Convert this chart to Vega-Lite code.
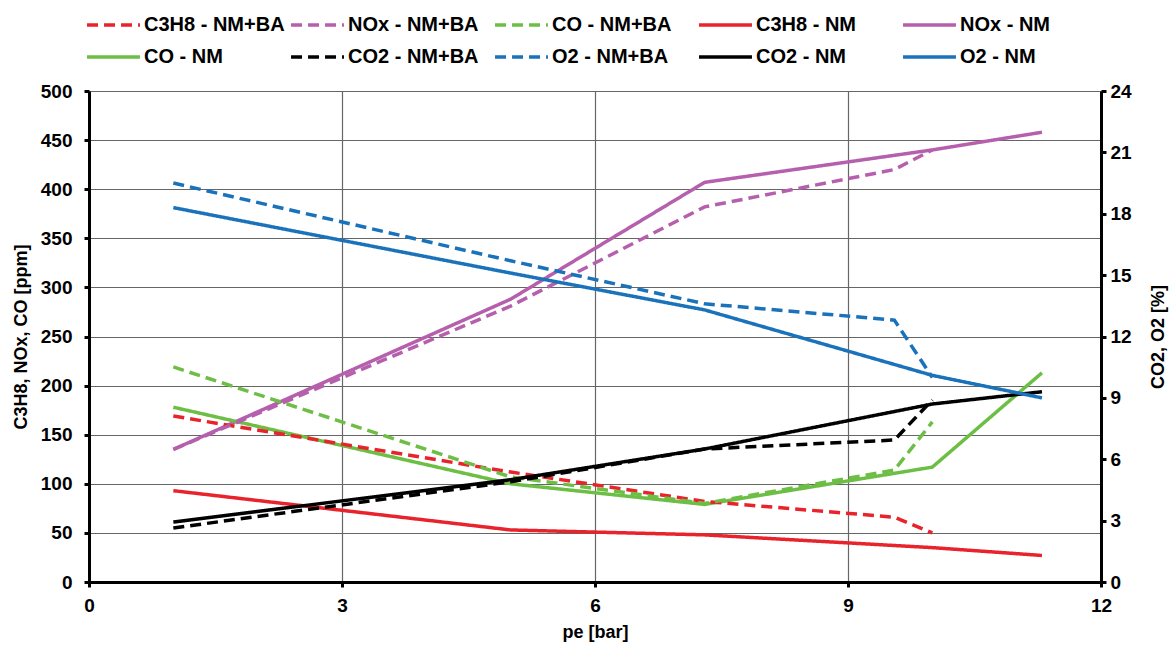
{
  "$schema": "https://vega.github.io/schema/vega-lite/v6.json",
  "width": 1012,
  "height": 491,
  "autosize": "none",
  "padding": {"left": 89, "top": 91, "right": 73, "bottom": 66},
  "background": "white",
  "data": {
    "values": [
      {"pe": 1, "value": 93, "series": "C3H8 - NM", "unit": "ppm"},
      {"pe": 5, "value": 53, "series": "C3H8 - NM", "unit": "ppm"},
      {"pe": 7.3, "value": 48, "series": "C3H8 - NM", "unit": "ppm"},
      {"pe": 10, "value": 35, "series": "C3H8 - NM", "unit": "ppm"},
      {"pe": 11.3, "value": 27, "series": "C3H8 - NM", "unit": "ppm"},

      {"pe": 1, "value": 135, "series": "NOx - NM", "unit": "ppm"},
      {"pe": 5, "value": 288, "series": "NOx - NM", "unit": "ppm"},
      {"pe": 7.3, "value": 407, "series": "NOx - NM", "unit": "ppm"},
      {"pe": 10, "value": 440, "series": "NOx - NM", "unit": "ppm"},
      {"pe": 11.3, "value": 458, "series": "NOx - NM", "unit": "ppm"},

      {"pe": 1, "value": 178, "series": "CO - NM", "unit": "ppm"},
      {"pe": 5, "value": 100, "series": "CO - NM", "unit": "ppm"},
      {"pe": 7.3, "value": 79, "series": "CO - NM", "unit": "ppm"},
      {"pe": 10, "value": 117, "series": "CO - NM", "unit": "ppm"},
      {"pe": 11.3, "value": 213, "series": "CO - NM", "unit": "ppm"},

      {"pe": 1, "value": 169, "series": "C3H8 - NM+BA", "unit": "ppm"},
      {"pe": 5, "value": 112, "series": "C3H8 - NM+BA", "unit": "ppm"},
      {"pe": 7.3, "value": 82, "series": "C3H8 - NM+BA", "unit": "ppm"},
      {"pe": 9.55, "value": 66, "series": "C3H8 - NM+BA", "unit": "ppm"},
      {"pe": 10, "value": 50, "series": "C3H8 - NM+BA", "unit": "ppm"},

      {"pe": 1, "value": 135, "series": "NOx - NM+BA", "unit": "ppm"},
      {"pe": 5, "value": 281, "series": "NOx - NM+BA", "unit": "ppm"},
      {"pe": 7.3, "value": 382, "series": "NOx - NM+BA", "unit": "ppm"},
      {"pe": 9.55, "value": 420, "series": "NOx - NM+BA", "unit": "ppm"},
      {"pe": 10, "value": 440, "series": "NOx - NM+BA", "unit": "ppm"},

      {"pe": 1, "value": 219, "series": "CO - NM+BA", "unit": "ppm"},
      {"pe": 5, "value": 107, "series": "CO - NM+BA", "unit": "ppm"},
      {"pe": 7.3, "value": 80, "series": "CO - NM+BA", "unit": "ppm"},
      {"pe": 9.55, "value": 114, "series": "CO - NM+BA", "unit": "ppm"},
      {"pe": 10, "value": 163, "series": "CO - NM+BA", "unit": "ppm"},

      {"pe": 1, "value": 2.93, "series": "CO2 - NM", "unit": "%"},
      {"pe": 5, "value": 5.0, "series": "CO2 - NM", "unit": "%"},
      {"pe": 7.3, "value": 6.5, "series": "CO2 - NM", "unit": "%"},
      {"pe": 10, "value": 8.7, "series": "CO2 - NM", "unit": "%"},
      {"pe": 11.3, "value": 9.3, "series": "CO2 - NM", "unit": "%"},

      {"pe": 1, "value": 18.3, "series": "O2 - NM", "unit": "%"},
      {"pe": 5, "value": 15.1, "series": "O2 - NM", "unit": "%"},
      {"pe": 7.3, "value": 13.3, "series": "O2 - NM", "unit": "%"},
      {"pe": 10, "value": 10.1, "series": "O2 - NM", "unit": "%"},
      {"pe": 11.3, "value": 9.0, "series": "O2 - NM", "unit": "%"},

      {"pe": 1, "value": 2.64, "series": "CO2 - NM+BA", "unit": "%"},
      {"pe": 5, "value": 4.9, "series": "CO2 - NM+BA", "unit": "%"},
      {"pe": 7.3, "value": 6.5, "series": "CO2 - NM+BA", "unit": "%"},
      {"pe": 9.55, "value": 6.94, "series": "CO2 - NM+BA", "unit": "%"},
      {"pe": 10, "value": 8.9, "series": "CO2 - NM+BA", "unit": "%"},

      {"pe": 1, "value": 19.5, "series": "O2 - NM+BA", "unit": "%"},
      {"pe": 5, "value": 15.7, "series": "O2 - NM+BA", "unit": "%"},
      {"pe": 7.3, "value": 13.6, "series": "O2 - NM+BA", "unit": "%"},
      {"pe": 9.55, "value": 12.8, "series": "O2 - NM+BA", "unit": "%"},
      {"pe": 10, "value": 10.0, "series": "O2 - NM+BA", "unit": "%"}
    ]
  },
  "encoding": {
    "x": {
      "field": "pe",
      "type": "quantitative",
      "scale": {"domain": [0, 12], "nice": false},
      "axis": {
        "title": "pe [bar]",
        "values": [0, 3, 6, 9, 12],
        "labelFlush": false,
        "grid": true,
        "labelPadding": 9,
        "titlePadding": 8
      }
    },
    "color": {
      "field": "series",
      "type": "nominal",
      "scale": {
        "domain": ["C3H8 - NM+BA", "NOx - NM+BA", "CO - NM+BA", "C3H8 - NM", "NOx - NM", "CO - NM", "CO2 - NM+BA", "O2 - NM+BA", "CO2 - NM", "O2 - NM"],
        "range": ["#E8232B", "#B55FAD", "#6CBE45", "#E8232B", "#B55FAD", "#6CBE45", "#000000", "#1A72BB", "#000000", "#1A72BB"]
      },
      "legend": {"title": null}
    },
    "strokeDash": {
      "field": "series",
      "type": "nominal",
      "scale": {
        "domain": ["C3H8 - NM+BA", "NOx - NM+BA", "CO - NM+BA", "C3H8 - NM", "NOx - NM", "CO - NM", "CO2 - NM+BA", "O2 - NM+BA", "CO2 - NM", "O2 - NM"],
        "range": [[11, 6], [11, 6], [11, 6], [1, 0], [1, 0], [1, 0], [11, 6], [11, 6], [1, 0], [1, 0]]
      },
      "legend": {"title": null}
    }
  },
  "layer": [
    {
      "transform": [{"filter": "datum.unit === 'ppm'"}],
      "mark": {"type": "line", "strokeWidth": 3.5, "strokeCap": "butt"},
      "encoding": {
        "y": {
          "field": "value",
          "type": "quantitative",
          "scale": {"domain": [0, 500], "nice": false},
          "axis": {
            "orient": "left",
            "title": "C3H8, NOx, CO [ppm]",
            "values": [0, 50, 100, 150, 200, 250, 300, 350, 400, 450, 500],
            "labelOverlap": false,
            "grid": true,
            "labelPadding": 12,
            "titlePadding": 10
          }
        }
      }
    },
    {
      "transform": [{"filter": "datum.unit === '%'"}],
      "mark": {"type": "line", "strokeWidth": 3.5, "strokeCap": "butt"},
      "encoding": {
        "y": {
          "field": "value",
          "type": "quantitative",
          "scale": {"domain": [0, 24], "nice": false},
          "axis": {
            "orient": "right",
            "title": "CO2, O2 [%]",
            "values": [0, 3, 6, 9, 12, 15, 18, 21, 24],
            "labelOverlap": false,
            "grid": false,
            "labelPadding": 4,
            "titleAngle": 270,
            "titlePadding": 36
          }
        }
      }
    }
  ],
  "resolve": {"scale": {"y": "independent"}},
  "config": {
    "font": "Liberation Sans",
    "view": {"stroke": null},
    "axis": {
      "domainColor": "#000000",
      "domainWidth": 3,
      "tickColor": "#000000",
      "tickWidth": 3,
      "tickSize": 5,
      "gridColor": "#666666",
      "gridWidth": 1.2,
      "labelFont": "Liberation Sans",
      "labelFontSize": 19,
      "labelFontWeight": "bold",
      "labelColor": "#000000",
      "titleFont": "Liberation Sans",
      "titleFontSize": 18,
      "titleFontWeight": "bold",
      "titleColor": "#000000"
    },
    "legend": {
      "orient": "none",
      "legendX": -4,
      "legendY": -78,
      "direction": "horizontal",
      "columns": 5,
      "gridAlign": "all",
      "columnPadding": 4,
      "rowPadding": 8,
      "clipHeight": 24,
      "symbolType": "stroke",
      "symbolSize": 2800,
      "symbolStrokeWidth": 3.5,
      "labelFont": "Liberation Sans",
      "labelFontSize": 20,
      "labelFontWeight": "bold",
      "labelColor": "#000000",
      "labelOffset": 2,
      "labelLimit": 300
    }
  }
}
